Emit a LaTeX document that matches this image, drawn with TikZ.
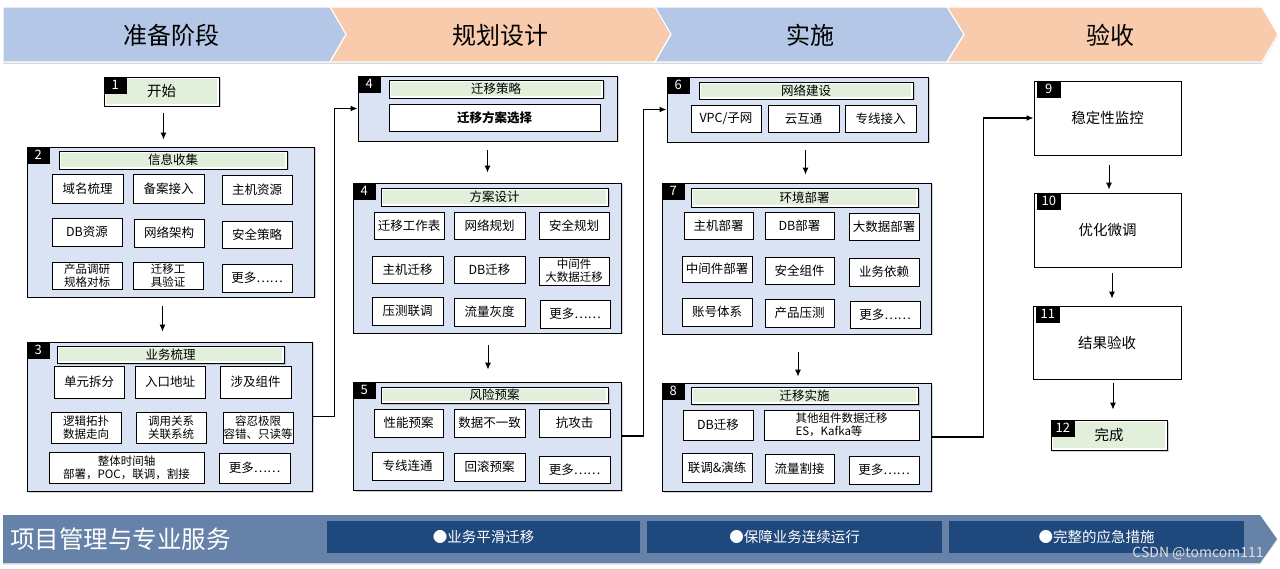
\documentclass[tikz,border=0pt]{standalone}
\usepackage{fontspec}
\setmainfont{Noto Sans CJK SC}
\usetikzlibrary{shadows,arrows.meta}
\definecolor{hblue}{HTML}{B4C7E7}
\definecolor{horange}{HTML}{F8CBAD}
\definecolor{cfill}{HTML}{DAE3F3}
\definecolor{tgreen}{HTML}{E2EFDA}
\definecolor{barblue}{HTML}{6682A8}
\definecolor{darkblue}{HTML}{1F497D}
\begin{document}
\begin{tikzpicture}[x=1pt,y=-1pt,
  rb/.style args={#1/#2/#3/#4}{inner sep=0pt, minimum width=#3pt-#1pt, minimum height=#4pt-#2pt,
    at={({(#1+#3)/2},{(#2+#4)/2})}},
  chev/.style={draw=white, line width=1.2pt, drop shadow={shadow xshift=0pt,shadow yshift=-2pt,opacity=0.3}},
  htext/.style={font=\fontsize{24}{28}\selectfont, inner sep=0pt},
  container/.style={draw, fill=cfill, line width=0.9pt, rb=#1,
    drop shadow={shadow xshift=1.5pt,shadow yshift=-1.5pt,opacity=0.35}},
  item/.style={draw, fill=white, line width=0.8pt, align=center,
    font=\fontsize{12.5}{15}\selectfont, rb=#1},
  itemtwo/.style={item=#1, font=\fontsize{11.5}{13}\selectfont},
  title/.style={draw, fill=white, line width=0.9pt, rb=#1,
    font=\fontsize{12.5}{15}\selectfont,
    drop shadow={shadow xshift=1.5pt,shadow yshift=-1.5pt,opacity=0.35},
    path picture={\fill[tgreen] ([shift={(1.6pt,-1.6pt)}]path picture bounding box.north west)
      rectangle ([shift={(-1.6pt,1.6pt)}]path picture bounding box.south east);}},
  plain/.style={draw, fill=white, line width=0.9pt, rb=#1,
    font=\fontsize{14.5}{17}\selectfont},
  num/.style={fill=black, text=white, inner sep=0pt, anchor=north west,
    minimum width=23pt, minimum height=17pt, font=\fontsize{13}{15}\selectfont},
  arr/.style={-{Latex[length=7pt,width=6pt]}, line width=1pt},
  elb/.style={-{Latex[length=7pt,width=6pt]}, line width=1.3pt},
  dbox/.style={fill=darkblue, rb=#1, text=white, font=\fontsize{14.5}{17}\selectfont},
]
\useasboundingbox (0,0) rectangle (1280,569);

% ---------- header ----------
\path[chev, fill=hblue] (3,7) -- (330,7) -- (346,34.5) -- (330,62) -- (3,62) -- cycle;
\path[chev, fill=horange] (330,7) -- (655,7) -- (671,34.5) -- (655,62) -- (330,62) -- (346,34.5) -- cycle;
\path[chev, fill=hblue] (655,7) -- (947,7) -- (964,34.5) -- (947,62) -- (655,62) -- (671,34.5) -- cycle;
\path[chev, fill=horange] (947,7) -- (1262,7) -- (1278,34.5) -- (1262,62) -- (947,62) -- (964,34.5) -- cycle;
\node[htext] (h1) at (171,35) {准备阶段};
\node[htext] (h2) at (500,35) {规划设计};
\node[htext] (h3) at (810,35) {实施};
\node[htext] (h4) at (1110,35) {验收};

% ---------- column 1 ----------
\node[title=104/77/219/106, font=\fontsize{14.5}{17}\selectfont] (n1) {开始};
\node[num] (n1l) at (n1.north west) {1};

\node[container=27/147/314/297] (c2) {};
\node[num] (c2l) at (c2.north west) {2};
\node[title=59/151/287/169] (c2t) {信息收集};
\node[item=52/174/123/203] (c2a) {域名梳理};
\node[item=133/174/204/203] (c2b) {备案接入};
\node[item=222/175/292/204] (c2c) {主机资源};
\node[item=52/218/122/246] (c2d) {DB资源};
\node[item=134/219/204/247] (c2e) {网络架构};
\node[item=222/221/292/248] (c2f) {安全策略};
\node[itemtwo=52/262/122/289] (c2g) {产品调研\\规格对标};
\node[itemtwo=133/262/203/289] (c2h) {迁移工\\具验证};
\node[item=222/264/292/292] (c2i) {更多……};

\node[container=27/342/312/491] (c3) {};
\node[num] (c3l) at (c3.north west) {3};
\node[title=57/346/284/363] (c3t) {业务梳理};
\node[item=54/366/124/398] (c3a) {单元拆分};
\node[item=135/366/205/398] (c3b) {入口地址};
\node[item=220/366/291/398] (c3c) {涉及组件};
\node[itemtwo=51/412/121/443] (c3d) {逻辑拓扑\\数据走向};
\node[itemtwo=136/412/206/443] (c3e) {调用关系\\关联系统};
\node[itemtwo=223/412/293/443] (c3f) {容忍极限\\容错、只读等};
\node[itemtwo=49/452/204/483] (c3g) {整体时间轴\\部署，POC，联调，割接};
\node[item=219/453/290/483] (c3h) {更多……};

% ---------- column 2 ----------
\node[container=358/76/617/141] (c4a) {};
\node[num] (c4al) at (c4a.north west) {4};
\node[title=389/80/603/98] (c4at) {迁移策略};
\node[item=389/104/600/131, font=\fontsize{12.5}{15}\selectfont\bfseries] (c4aa) {迁移方案选择};

\node[container=353/183/621/333] (c4b) {};
\node[num] (c4bl) at (c4b.north west) {4};
\node[title=381/188/608/206] (c4bt) {方案设计};
\node[item=374/212/444/239] (c4ba) {迁移工作表};
\node[item=454/212/525/239] (c4bb) {网络规划};
\node[item=539/212/609/239] (c4bc) {安全规划};
\node[item=372/256/443/283] (c4bd) {主机迁移};
\node[item=454/256/525/283] (c4be) {DB迁移};
\node[itemtwo=539/257/609/285] (c4bf) {中间件\\大数据迁移};
\node[item=372/297/443/325] (c4bg) {压测联调};
\node[item=454/298/525/326] (c4bh) {流量灰度};
\node[item=540/300/610/328] (c4bi) {更多……};

\node[container=353/382/621/490] (c5) {};
\node[num] (c5l) at (c5.north west) {5};
\node[title=381/387/608/403] (c5t) {风险预案};
\node[item=374/409/443/437] (c5a) {性能预案};
\node[item=454/409/525/437] (c5b) {数据不一致};
\node[item=539/409/610/437] (c5c) {抗攻击};
\node[item=372/452/443/480] (c5d) {专线连通};
\node[item=454/453/525/481] (c5e) {回滚预案};
\node[item=539/456/610/483] (c5f) {更多……};

% ---------- column 3 ----------
\node[container=667/77/928/142] (c6) {};
\node[num] (c6l) at (c6.north west) {6};
\node[title=699/82/913/99] (c6t) {网络建设};
\node[item=691/105/761/132] (c6a) {VPC/子网};
\node[item=768/105/839/132] (c6b) {云互通};
\node[item=845/105/916/132] (c6c) {专线接入};

\node[container=662/183/931/334] (c7) {};
\node[num] (c7l) at (c7.north west) {7};
\node[title=691/188/918/207] (c7t) {环境部署};
\node[item=684/212/753/239] (c7a) {主机部署};
\node[item=765/212/834/239] (c7b) {DB部署};
\node[item=849/213/919/240] (c7c) {大数据部署};
\node[item=682/256/752/282] (c7d) {中间件部署};
\node[item=765/257/834/284] (c7e) {安全组件};
\node[item=849/258/919/286] (c7f) {业务依赖};
\node[item=682/298/752/326] (c7g) {账号体系};
\node[item=765/299/834/327] (c7h) {产品压测};
\node[item=850/301/920/328] (c7i) {更多……};

\node[container=662/383/931/491] (c8) {};
\node[num] (c8l) at (c8.north west) {8};
\node[title=691/387/918/404] (c8t) {迁移实施};
\node[item=683/410/753/440] (c8a) {DB迁移};
\node[itemtwo=764/410/919/440, align=left] (c8b) {其他组件数据迁移\\ES，Kafka等};
\node[item=682/453/752/482] (c8c) {联调\&演练};
\node[item=765/454/834/483] (c8d) {流量割接};
\node[item=849/456/919/484] (c8e) {更多……};

% ---------- column 4 ----------
\node[plain=1034/81/1181/155] (n9) {稳定性监控};
\node[num, minimum width=24pt] (n9l) at ([xshift=3pt]n9.north west) {9};
\node[plain=1034/193/1181/267] (n10) {优化微调};
\node[num, minimum width=24pt] (n10l) at ([xshift=3pt]n10.north west) {10};
\node[plain=1033/306/1181/379] (n11) {结果验收};
\node[num, minimum width=24pt] (n11l) at ([xshift=3pt]n11.north west) {11};
\node[title=1051/420/1167/450, font=\fontsize{14.5}{17}\selectfont] (n12) {完成};
\node[num, minimum width=24pt] (n12l) at (n12.north west) {12};

% ---------- connectors ----------
\draw[arr, shorten <=7pt, shorten >=7pt] ([xshift=2pt]n1.south) -- ([xshift=2pt]n1.south |- c2.north);
\draw[arr, shorten <=9pt, shorten >=10pt] ([xshift=-8pt]c2.south) -- ([xshift=-8pt]c2.south |- c3.north);
\draw[arr, shorten <=9pt, shorten >=10pt] (c4a.south) -- (c4a.south |- c4b.north);
\draw[arr, shorten <=12pt, shorten >=12pt] ([xshift=1pt]c4b.south) -- ([xshift=1pt]c4b.south |- c5.north);
\draw[arr, shorten <=8pt, shorten >=8pt] ([xshift=8pt]c6.south) -- ([xshift=8pt]c6.south |- c7.north);
\draw[arr, shorten <=18pt, shorten >=6pt] ([xshift=1.5pt]c7.south) -- ([xshift=1.5pt]c7.south |- c8.north);
\draw[arr, shorten <=10pt, shorten >=3pt] ([xshift=1.5pt]n9.south) -- ([xshift=1.5pt]n9.south |- n10.north);
\draw[arr, shorten <=6pt, shorten >=7pt] ([xshift=4.5pt]n10.south) -- ([xshift=4.5pt]n10.south |- n11.north);
\draw[arr, shorten <=4pt, shorten >=10pt] ([xshift=6pt]n11.south) -- ([xshift=6pt]n11.south |- n12.north);

\draw[elb] (c3.east) -- ++(22,0) |- (c4a.west);
\draw[elb] (c5.east) -- ++(22,0) |- (c6.west);
\draw[elb] (c8.east) -- ++(52,0) |- (n9.west);

% ---------- bottom bar ----------
\path[fill=barblue, drop shadow={shadow xshift=0pt,shadow yshift=-1.5pt,opacity=0.25}]
  (3,515) -- (1260,515) -- (1277,539) -- (1260,563) -- (3,563) -- cycle;
\node[anchor=west, text=white, inner sep=0pt, font=\fontsize{24.5}{28}\selectfont] (pm) at (10,539) {项目管理与专业服务};
\node[dbox=327/521/640/553] (b1) {●业务平滑迁移};
\node[dbox=647/521/942/553] (b2) {●保障业务连续运行};
\node[dbox=949/521/1244/553] (b3) {●完整的应急措施};
\node[text=gray!25, inner sep=0pt, font=\fontsize{14}{16}\selectfont] (wm) at (1198,553) {CSDN @tomcom111};
\end{tikzpicture}
\end{document}
